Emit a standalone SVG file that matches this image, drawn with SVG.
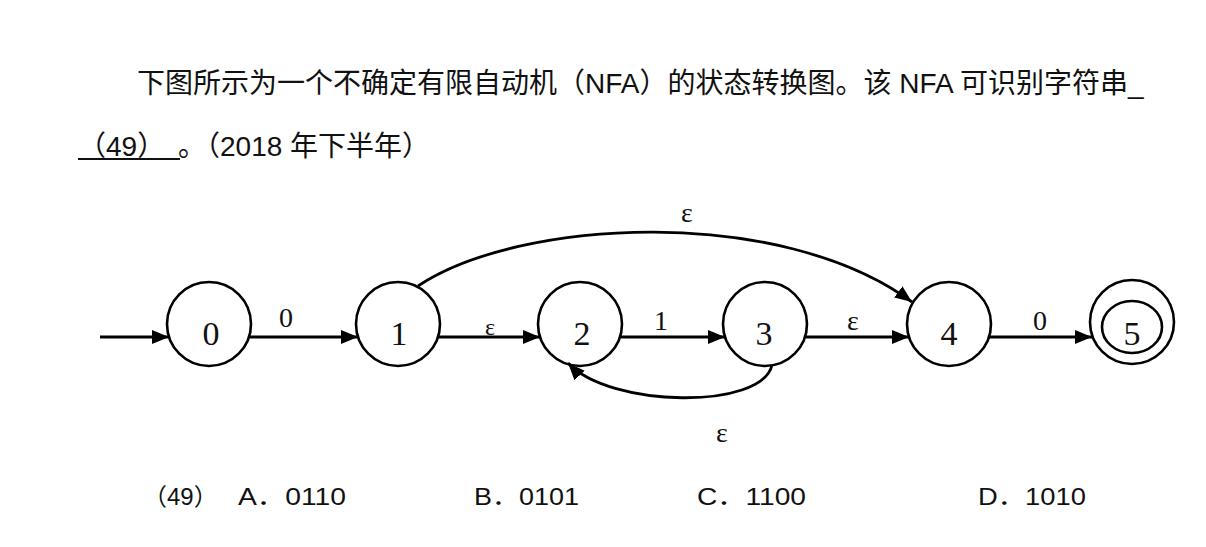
<svg xmlns="http://www.w3.org/2000/svg" width="1206" height="547" viewBox="0 0 1206 547">
<style>
.q{font-family:"Liberation Sans","Noto Sans CJK SC",sans-serif;font-size:28px;fill:#111}
.o{font-family:"Liberation Sans","Noto Sans CJK SC",sans-serif;font-size:24px;fill:#111}
.st{fill:none;stroke:#000;stroke-width:2.6}
.num{font-family:"Liberation Serif","DejaVu Serif",serif;font-size:34px;fill:#111;text-anchor:middle}
.lb{font-family:"Liberation Serif","DejaVu Serif",serif;font-size:28px;fill:#111;text-anchor:middle}
.ed{fill:none;stroke:#000;stroke-width:2.8}
</style>
<defs>
<marker id="ah" markerUnits="userSpaceOnUse" markerWidth="18" markerHeight="14" refX="17" refY="7" orient="auto">
<path d="M0,0 L17,7 L0,14 z" fill="#000"/>
</marker>
</defs>
<rect width="1206" height="547" fill="#fff"/>
<g id="question">
<text class="q" x="137" y="93">下图所示为一个不确定有限自动机（NFA）的状态转换图。该 NFA 可识别字符串_</text>
<text class="q" x="78" y="156">（49）</text>
<line x1="78" y1="159" x2="180" y2="159" stroke="#111" stroke-width="2"/>
<text class="q" x="178" y="156">。（2018 年下半年）</text>
</g>
<g id="connectors">
<line class="ed" x1="100" y1="337" x2="169" y2="337" marker-end="url(#ah)"/>
<line class="ed" x1="250" y1="337" x2="358" y2="337" marker-end="url(#ah)"/>
<line class="ed" x1="438" y1="337" x2="540" y2="337" marker-end="url(#ah)"/>
<line class="ed" x1="621" y1="337" x2="725" y2="337" marker-end="url(#ah)"/>
<line class="ed" x1="806" y1="337" x2="909" y2="337" marker-end="url(#ah)"/>
<line class="ed" x1="989" y1="337" x2="1092" y2="337" marker-end="url(#ah)"/>
<path class="ed" d="M418,286 C520,218 780,205 912,302" marker-end="url(#ah)"/>
<path class="ed" d="M772,365 C762,410 610,408 568,363" marker-end="url(#ah)"/>
<text class="lb" x="286" y="327">0</text>
<text class="lb" x="490" y="335" style="font-size:24px">ε</text>
<text class="lb" x="661" y="330">1</text>
<text class="lb" x="853" y="330">ε</text>
<text class="lb" x="1040" y="330">0</text>
<text class="lb" x="687" y="222">ε</text>
<text class="lb" x="722" y="442">ε</text>
</g>
<g id="n0"><circle class="st" cx="209" cy="324" r="42"/><text class="num" x="211" y="345">0</text></g>
<g id="n1"><circle class="st" cx="398" cy="324" r="42"/><text class="num" x="399" y="345">1</text></g>
<g id="n2"><circle class="st" cx="580" cy="324" r="42"/><text class="num" x="582" y="345">2</text></g>
<g id="n3"><circle class="st" cx="765" cy="324" r="42"/><text class="num" x="764" y="345">3</text></g>
<g id="n4"><circle class="st" cx="949" cy="324" r="42"/><text class="num" x="949" y="345">4</text></g>
<g id="n5"><circle class="st" cx="1132" cy="322" r="42"/><ellipse class="st" cx="1132" cy="327" rx="30" ry="26"/><text class="num" x="1132" y="345">5</text></g>
<g id="options">
<text class="o" x="143" y="505">（49）</text>
<text class="o" x="238" y="505" textLength="108" lengthAdjust="spacingAndGlyphs">A．0110</text>
<text class="o" x="474" y="505" textLength="105" lengthAdjust="spacingAndGlyphs">B．0101</text>
<text class="o" x="697" y="505" textLength="109" lengthAdjust="spacingAndGlyphs">C．1100</text>
<text class="o" x="978" y="505" textLength="108" lengthAdjust="spacingAndGlyphs">D．1010</text>
</g>
</svg>
